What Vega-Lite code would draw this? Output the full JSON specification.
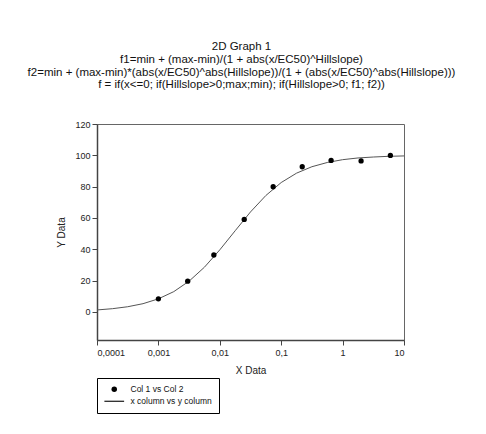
{
  "$schema": "https://vega.github.io/schema/vega-lite/v6.json",
  "width": 307,
  "height": 216,
  "autosize": {"type": "none"},
  "padding": {"left": 97, "top": 124, "right": 82, "bottom": 94},
  "background": "white",
  "config": {
    "font": "Liberation Sans",
    "view": {"stroke": "#666", "strokeWidth": 1},
    "axis": {"grid": false, "domainColor": "#444", "domainWidth": 1.5, "tickColor": "#444", "tickWidth": 1, "tickSize": 5, "labelFontSize": 9, "labelColor": "#222", "titleFontSize": 10, "titleFontWeight": "normal", "titleColor": "#222", "labelFont": "Liberation Sans", "titleFont": "Liberation Sans", "labelOverlap": false}
  },
  "title": {
    "text": [
      "2D Graph 1",
      "f1=min + (max-min)/(1 + abs(x/EC50)^Hillslope)",
      "f2=min + (max-min)*(abs(x/EC50)^abs(Hillslope))/(1 + (abs(x/EC50)^abs(Hillslope)))",
      "f = if(x<=0; if(Hillslope>0;max;min); if(Hillslope>0; f1; f2))"
    ],
    "anchor": "middle",
    "frame": "group",
    "fontSize": 11.5,
    "fontWeight": "normal",
    "font": "Liberation Sans",
    "color": "#111",
    "lineHeight": 12.8,
    "offset": 29,
    "dx": -9
  },
  "datasets": {
    "points": [
      {"x": 0.001, "y": 8.3, "series": "Col 1 vs Col 2"},
      {"x": 0.003, "y": 19.6, "series": "Col 1 vs Col 2"},
      {"x": 0.008, "y": 36.3, "series": "Col 1 vs Col 2"},
      {"x": 0.025, "y": 59.0, "series": "Col 1 vs Col 2"},
      {"x": 0.074, "y": 79.9, "series": "Col 1 vs Col 2"},
      {"x": 0.22, "y": 92.7, "series": "Col 1 vs Col 2"},
      {"x": 0.65, "y": 96.7, "series": "Col 1 vs Col 2"},
      {"x": 2.0, "y": 96.4, "series": "Col 1 vs Col 2"},
      {"x": 6.0, "y": 99.9, "series": "Col 1 vs Col 2"}
    ],
    "curve": [
      {"x": 0.0001, "y": 1.2},
      {"x": 0.000178, "y": 2.0},
      {"x": 0.000316, "y": 3.25},
      {"x": 0.000562, "y": 5.2},
      {"x": 0.001, "y": 8.3},
      {"x": 0.00178, "y": 12.9},
      {"x": 0.00316, "y": 19.6},
      {"x": 0.00562, "y": 28.5},
      {"x": 0.01, "y": 39.6},
      {"x": 0.0178, "y": 51.8},
      {"x": 0.0316, "y": 63.8},
      {"x": 0.0562, "y": 74.3},
      {"x": 0.1, "y": 82.6},
      {"x": 0.178, "y": 88.6},
      {"x": 0.316, "y": 92.7},
      {"x": 0.562, "y": 95.4},
      {"x": 1.0, "y": 97.2},
      {"x": 1.78, "y": 98.3},
      {"x": 3.16, "y": 98.9},
      {"x": 5.62, "y": 99.35},
      {"x": 10.0, "y": 99.6}
    ]
  },
  "layer": [
    {
      "data": {"name": "curve"},
      "mark": {"type": "line", "color": "#555", "strokeWidth": 1, "clip": true},
      "encoding": {
        "x": {"field": "x", "type": "quantitative", "scale": {"type": "log", "domain": [0.0001, 10]},
          "axis": {"title": "X Data", "values": [0.0001, 0.001, 0.01, 0.1, 1, 10], "labelExpr": "replace(toString(datum.value), '.', ',')", "titlePadding": 8, "labelPadding": 3, "labelOverlap": false}},
        "y": {"field": "y", "type": "quantitative", "scale": {"domain": [-18, 120], "nice": false, "zero": false},
          "axis": {"title": "Y Data", "values": [0, 20, 40, 60, 80, 100, 120], "tickCount": 7, "titlePadding": 8, "labelPadding": 2, "labelOverlap": false, "labelBound": false}}
      }
    },
    {
      "data": {"name": "points"},
      "mark": {"type": "point", "filled": true, "color": "black", "opacity": 1, "size": 28},
      "encoding": {
        "x": {"field": "x", "type": "quantitative"},
        "y": {"field": "y", "type": "quantitative"},
        "shape": {"field": "series", "type": "nominal",
          "scale": {"domain": ["Col 1 vs Col 2", "x column vs y column"], "range": ["circle", "M-3.6,-0.2H3.6V0.2H-3.6Z"]},
          "legend": {"title": null, "orient": "none", "legendX": 0, "legendY": 254, "strokeColor": "black", "padding": 7, "labelFontSize": 8.5, "labelColor": "#111", "labelFont": "Liberation Sans", "symbolSize": 30, "rowPadding": 2, "symbolOffset": 6, "labelOffset": 12, "cornerRadius": 0,
            "encode": {"symbols": {"update": {"fill": {"value": "black"}, "opacity": {"value": 1}}}}}
        }
      }
    }
  ]
}
